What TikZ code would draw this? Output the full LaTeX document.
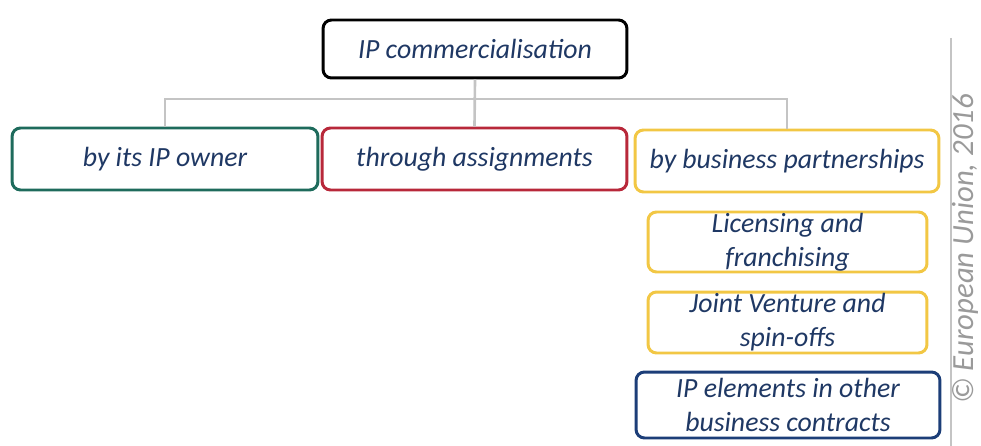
\documentclass[tikz,border=0pt]{standalone}
\usepackage{fontspec}
\setmainfont{Carlito}
\definecolor{txt}{HTML}{1F3864}
\definecolor{cgreen}{HTML}{1E6B5C}
\definecolor{cred}{HTML}{B8283A}
\definecolor{cyellow}{HTML}{F2C744}
\definecolor{cnavy}{HTML}{1C3E78}
\definecolor{cgray}{HTML}{C4C4C4}
\definecolor{ctext}{HTML}{9A9A9A}
\begin{document}
\begin{tikzpicture}[x=0.02cm,y=-0.02cm,
  box/.style={draw, line width=1.7pt, rounded corners=0.17cm, inner sep=0pt, align=center,
    text=txt, font=\fontsize{15.8}{19.3}\selectfont\itshape, fill=white},
  conn/.style={draw=cgray, line width=1.5pt}]
\useasboundingbox (0,0) rectangle (981,446);
\coordinate (hub) at (475,99);
\node[box, draw=black, minimum width=6.08cm, minimum height=1.16cm] (top) at (475,49) {IP commercialisation};
\node[box, draw=cgreen, minimum width=6.12cm, minimum height=1.24cm] (left) at (165,159) {by its IP owner};
\node[box, draw=cred, minimum width=6.1cm, minimum height=1.24cm] (mid) at (474.5,159) {through assignments};
\node[box, draw=cyellow, minimum width=6.08cm, minimum height=1.24cm] (right) at (787,161) {by business partnerships};
\node[box, draw=cyellow, minimum width=5.58cm, minimum height=1.2cm] (lic) at (787.5,242) {Licensing and\\franchising};
\node[box, draw=cyellow, minimum width=5.58cm, minimum height=1.22cm] (jv) at (787.5,322.5) {Joint Venture and\\spin-offs};
\node[box, draw=cnavy, minimum width=6.08cm, minimum height=1.32cm] (ipe) at (788,405) {IP elements in other\\business contracts};
\draw[conn] (top.south) -- (mid.north);
\draw[conn] (left.north) |- (hub) -| (right.north);
\coordinate (ls) at (951,38);
\coordinate (le) at (951,446);
\draw[conn] (ls) -- (le);
\node[rotate=90, text=ctext, font=\fontsize{17.5}{20}\selectfont\itshape, inner sep=0pt] (copy) at (965,249) {© European Union, 2016};
\end{tikzpicture}
\end{document}
